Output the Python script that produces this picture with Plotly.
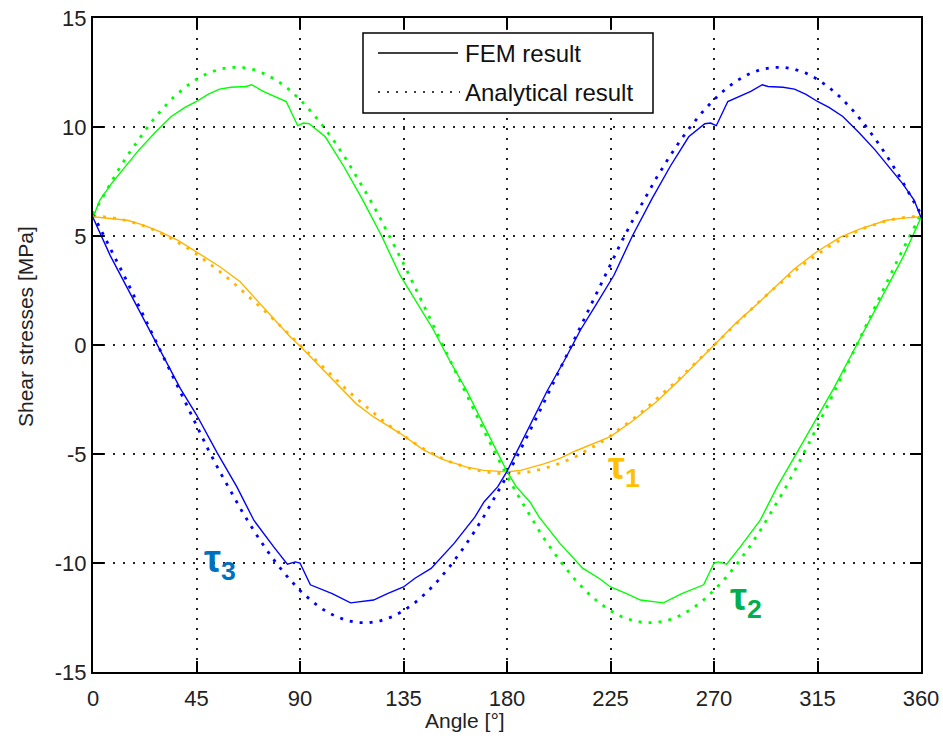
import plotly.graph_objects as go

# ---------------- data ----------------
x_ticks = [0, 45, 90, 135, 180, 225, 270, 315, 360]
y_ticks = [-15, -10, -5, 0, 5, 10, 15]
y_ticktext = ["-15", "-10", "-5", "0", "5", "10", "15"]

# FEM result tau1 (yellow)
fem1_angle = [0, 5, 15, 22, 29, 37, 45, 55, 64, 67, 76, 85.5, 90, 100, 114.5, 122, 133.5, 143.5, 152,
              162.5, 170, 180, 186, 196, 203, 210, 218, 225, 235, 245, 255, 262, 270, 280, 290, 297,
              305, 315, 325, 333, 345, 352, 360]
fem1_value = [5.88, 5.82, 5.72, 5.5, 5.2, 4.8, 4.28, 3.6, 2.9, 2.55, 1.5, 0.4, -0.05, -1.15, -2.7, -3.3,
              -4.05, -4.8, -5.25, -5.6, -5.75, -5.82, -5.75, -5.45, -5.2, -4.85, -4.5, -4.2, -3.45, -2.6,
              -1.6, -0.85, 0.0, 1.05, 2.0, 2.7, 3.5, 4.3, 4.95, 5.3, 5.72, 5.82, 5.88]

# FEM result tau2 (green)
fem2_angle = [0, 3, 8, 13, 20, 27, 34, 40, 45, 50, 55, 60, 66.5, 69, 74, 84, 89, 91.5, 94, 101, 109,
              117, 125.5, 133.5, 141, 148, 155, 162.5, 170, 176, 180, 184, 190, 194, 203, 213, 220,
              225, 232, 238, 248, 256, 265.5, 270, 272, 275.5, 281.5, 290, 297.5, 306, 315, 322, 330,
              337, 345, 352.5, 360]
fem2_value = [5.85, 6.65, 7.4, 8.05, 8.95, 9.75, 10.48, 10.9, 11.17, 11.5, 11.74, 11.82, 11.86, 11.94,
              11.63, 11.17, 10.06, 10.18, 10.15, 9.55, 8.2, 6.7, 5.0, 3.2, 1.9, 0.7, -0.7, -2.1, -3.7,
              -4.95, -5.8, -6.5, -7.2, -7.9, -9.1, -10.25, -10.7, -11.1, -11.4, -11.7, -11.83, -11.4,
              -11.0, -10.0, -9.95, -10.05, -9.25, -8.05, -6.5, -4.95, -3.3, -2.0, -0.4, 1.0, 2.6,
              4.1, 5.85]

# FEM result tau3 (blue)
fem3_angle = [0, 7.5, 15, 23, 30, 38, 45, 54, 62.5, 70, 78.5, 84.5, 88, 90, 94.5, 104, 112, 122, 128,
              135, 140, 147, 157, 166, 170, 176, 180, 184, 190, 197.5, 205, 212, 219, 226.5, 234.5,
              243, 251, 259, 266, 268.5, 271, 276, 286, 291, 293.5, 300, 305, 310, 315, 320, 326, 333,
              340, 347, 352, 357, 360]
fem3_value = [5.85, 4.1, 2.6, 1.0, -0.4, -2.0, -3.2, -4.95, -6.5, -8.05, -9.25, -10.05, -9.95, -10.0,
              -11.0, -11.4, -11.83, -11.7, -11.4, -11.1, -10.7, -10.25, -9.1, -7.9, -7.2, -6.5, -5.8,
              -4.95, -3.7, -2.1, -0.7, 0.7, 1.9, 3.2, 5.0, 6.7, 8.2, 9.55, 10.15, 10.18, 10.06, 11.17,
              11.63, 11.94, 11.86, 11.82, 11.74, 11.5, 11.17, 10.9, 10.48, 9.75, 8.95, 8.05, 7.4,
              6.65, 5.85]

# Analytical results, read every 5 degrees
an_angle = list(range(0, 365, 5))
an1_value = [5.9, 5.88, 5.81, 5.70, 5.54, 5.35, 5.11, 4.83, 4.52, 4.17, 3.79, 3.38, 2.95, 2.49, 2.02,
             1.53, 1.02, 0.51, 0.0, -0.51, -1.02, -1.53, -2.02, -2.49, -2.95, -3.38, -3.79, -4.17,
             -4.52, -4.83, -5.11, -5.35, -5.54, -5.70, -5.81, -5.88, -5.9, -5.88, -5.81, -5.70, -5.54,
             -5.35, -5.11, -4.83, -4.52, -4.17, -3.79, -3.38, -2.95, -2.49, -2.02, -1.53, -1.02, -0.51,
             0.0, 0.51, 1.02, 1.53, 2.02, 2.49, 2.95, 3.38, 3.79, 4.17, 4.52, 4.83, 5.11, 5.35, 5.54,
             5.70, 5.81, 5.88, 5.9]
an2_value = [6.0, 6.94, 7.85, 8.70, 9.47, 10.18, 10.81, 11.36, 11.82, 12.19, 12.47, 12.65, 12.74, 12.73,
             12.63, 12.42, 12.13, 11.74, 11.26, 10.69, 10.05, 9.33, 8.53, 7.67, 6.76, 5.79, 4.78, 3.73,
             2.65, 1.55, 0.45, -0.67, -1.77, -2.87, -3.94, -4.98, -6.0, -6.94, -7.85, -8.70, -9.47,
             -10.18, -10.81, -11.36, -11.82, -12.19, -12.47, -12.65, -12.74, -12.73, -12.63, -12.42,
             -12.13, -11.74, -11.26, -10.69, -10.05, -9.33, -8.53, -7.67, -6.76, -5.79, -4.78, -3.73,
             -2.65, -1.55, -0.45, 0.67, 1.77, 2.87, 3.94, 4.98, 6.0]
an3_value = [6.0, 4.98, 3.94, 2.87, 1.77, 0.67, -0.45, -1.55, -2.65, -3.73, -4.78, -5.79, -6.76, -7.67,
             -8.53, -9.33, -10.05, -10.69, -11.26, -11.74, -12.13, -12.42, -12.63, -12.73, -12.74,
             -12.65, -12.47, -12.19, -11.82, -11.36, -10.81, -10.18, -9.47, -8.70, -7.85, -6.94, -6.0,
             -4.98, -3.94, -2.87, -1.77, -0.67, 0.45, 1.55, 2.65, 3.73, 4.78, 5.79, 6.76, 7.67, 8.53,
             9.33, 10.05, 10.69, 11.26, 11.74, 12.13, 12.42, 12.63, 12.73, 12.74, 12.65, 12.47, 12.19,
             11.82, 11.36, 10.81, 10.18, 9.47, 8.70, 7.85, 6.94, 6.0]

legend_labels = ["FEM result", "Analytical result"]
curve_labels = ["τ<sub>1</sub>", "τ<sub>2</sub>", "τ<sub>3</sub>"]
x_title = "Angle [°]"
y_title = "Shear stresses [MPa]"

# ---------------- styles ----------------
C1, C2, C3 = "#FFB400", "#00FF00", "#0000FF"
L1, L2, L3 = "#FFC000", "#00B050", "#0070C0"
FONT = "Liberation Sans, Arial, sans-serif"
AN_DASH = "3px,7px"

fig = go.Figure()
for ang, val, col in [(an_angle, an1_value, C1), (an_angle, an2_value, C2), (an_angle, an3_value, C3)]:
    fig.add_trace(go.Scatter(x=ang, y=val, mode="lines",
                             line=dict(color=col, width=2.8, dash=AN_DASH)))
for ang, val, col in [(fem1_angle, fem1_value, C1), (fem2_angle, fem2_value, C2), (fem3_angle, fem3_value, C3)]:
    fig.add_trace(go.Scatter(x=ang, y=val, mode="lines", line=dict(color=col, width=1.4)))

axis_common = dict(showline=True, linecolor="black", linewidth=2, mirror="allticks",
                   ticks="inside", ticklen=11, tickwidth=1.5, tickcolor="black", automargin=False,
                   showgrid=True, gridcolor="#222", gridwidth=1.6, griddash="2px,8px",
                   zeroline=False, tickfont=dict(family=FONT, size=22, color="#222"))
fig.update_xaxes(range=[0, 360], tickvals=x_ticks, ticktext=[str(t) for t in x_ticks],
                 ticklabelstandoff=6, **axis_common)
fig.update_yaxes(range=[-15, 15], tickvals=y_ticks, ticktext=y_ticktext, **axis_common)

L, R, T, B = 93, 921, 18, 672
W, H = R - L, B - T
def px(x):
    return (x - L) / W
def py(y):
    return (B - y) / H

shapes = [
    dict(type="rect", xref="paper", yref="paper", x0=px(363), x1=px(653), y0=py(113), y1=py(33),
         line=dict(color="black", width=1.5), fillcolor="white", layer="above"),
    dict(type="line", xref="paper", yref="paper", x0=px(378), x1=px(458), y0=py(53), y1=py(53),
         line=dict(color="black", width=1.5), layer="above"),
    dict(type="line", xref="paper", yref="paper", x0=px(378), x1=px(460), y0=py(92), y1=py(92),
         line=dict(color="black", width=1.5, dash="2px,7px"), layer="above"),
]
annotations = [
    dict(xref="paper", yref="paper", x=px(463), y=py(53), text=legend_labels[0], showarrow=False,
         xanchor="left", yanchor="middle", font=dict(family=FONT, size=24, color="#111")),
    dict(xref="paper", yref="paper", x=px(463), y=py(92), text=legend_labels[1], showarrow=False,
         xanchor="left", yanchor="middle", font=dict(family=FONT, size=24, color="#111")),
    dict(xref="paper", yref="paper", x=px(465), y=py(720), text=x_title, showarrow=False,
         xanchor="center", yanchor="middle", font=dict(family=FONT, size=21, color="#222")),
    dict(xref="paper", yref="paper", x=px(25), y=py(327), text=y_title, showarrow=False, textangle=-90,
         xanchor="center", yanchor="middle", font=dict(family=FONT, size=21, color="#222")),
    dict(x=223.2, y=-5.7, text=curve_labels[0], showarrow=False, xanchor="left", yanchor="middle",
         font=dict(family=FONT, size=38, color=L1, weight="bold")),
    dict(x=275.9, y=-11.7, text=curve_labels[1], showarrow=False, xanchor="left", yanchor="middle",
         font=dict(family=FONT, size=38, color=L2, weight="bold")),
    dict(x=47.5, y=-9.95, text=curve_labels[2], showarrow=False, xanchor="left", yanchor="middle",
         font=dict(family=FONT, size=38, color=L3, weight="bold")),
]

fig.update_layout(width=943, height=742, margin=dict(l=L, r=943 - R, t=T, b=742 - B),
                  plot_bgcolor="white", paper_bgcolor="white", showlegend=False,
                  shapes=shapes, annotations=annotations)

fig.write_html("out.html", config={"displayModeBar": False},
               post_script="document.body.style.margin='0px';document.body.style.overflow='hidden';")
